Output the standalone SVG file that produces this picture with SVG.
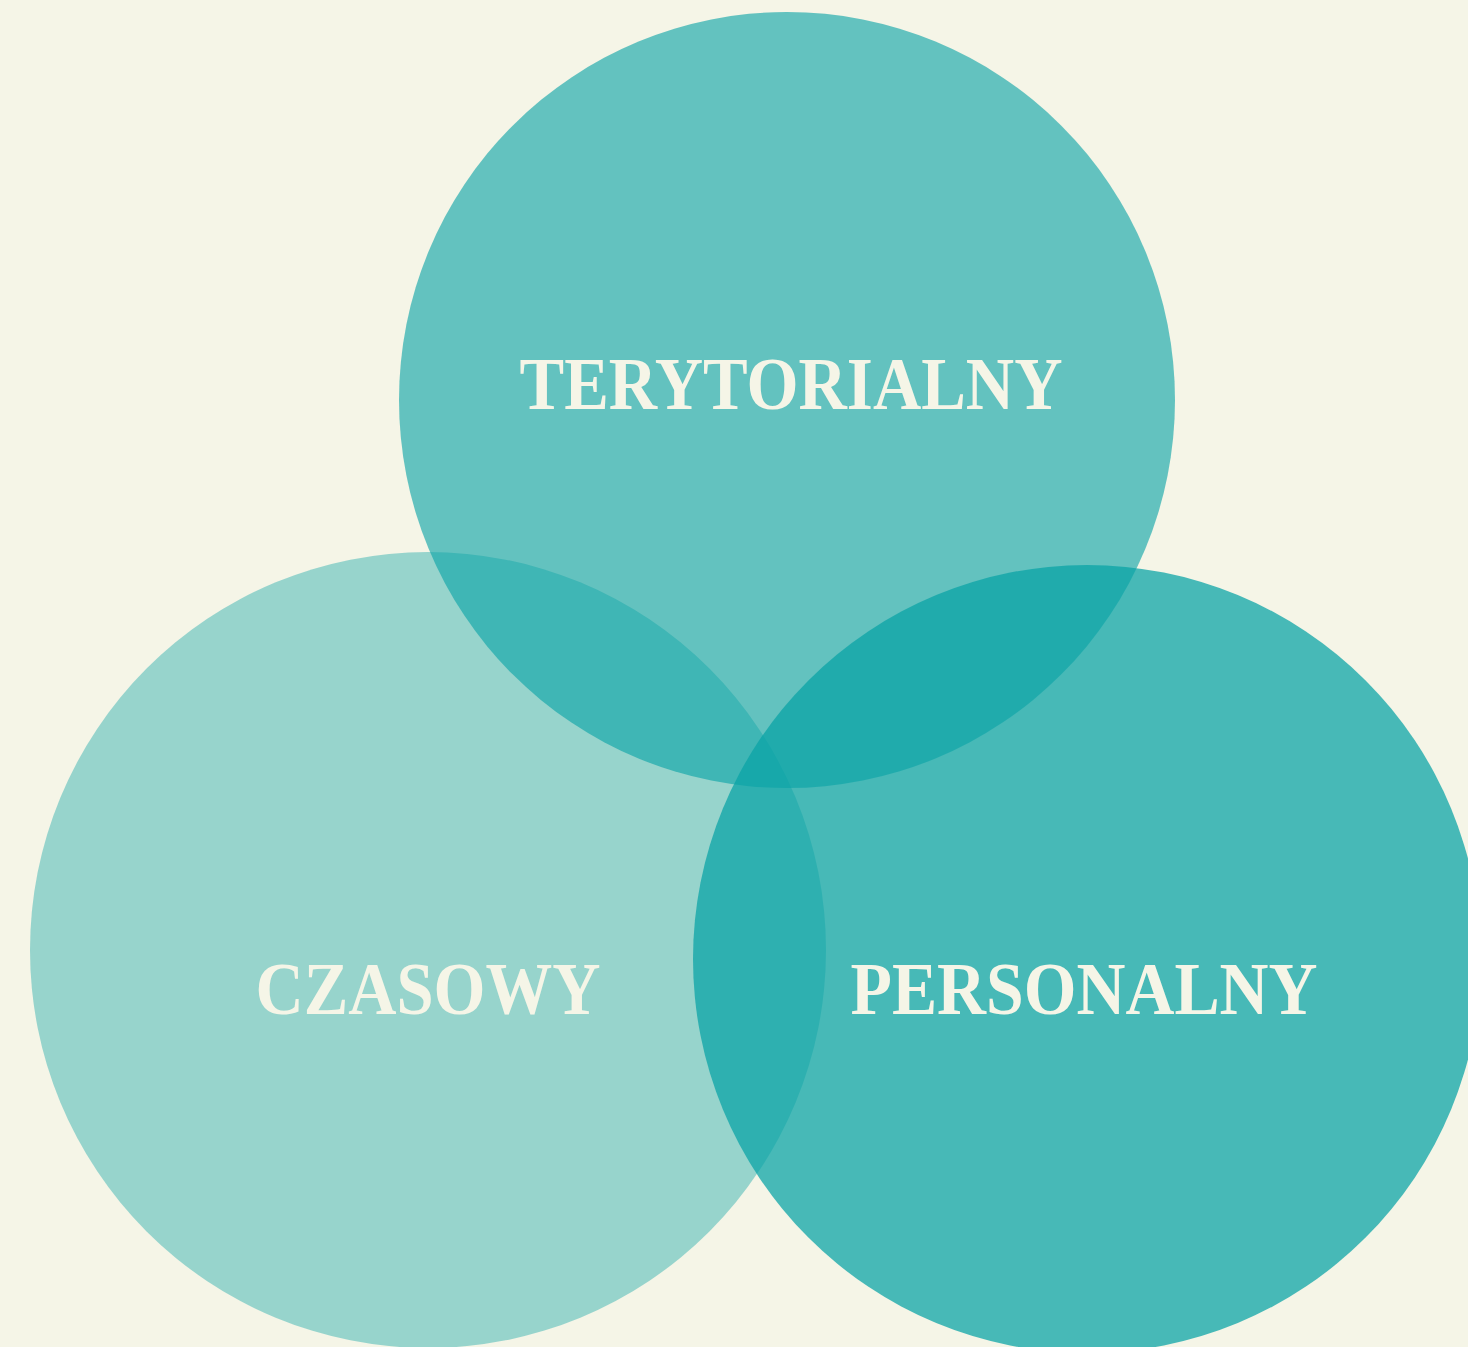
<svg xmlns="http://www.w3.org/2000/svg" width="1468" height="1347" viewBox="0 0 1468 1347">
<style>
.c{fill:#0AA3A6}
.t{font-family:"Liberation Serif","DejaVu Serif",serif;font-weight:bold;font-size:74px;fill:#F5F5E7;text-anchor:middle}
</style>
<rect width="1468" height="1347" fill="#F5F5E7"/>
<g id="czasowy"><circle class="c" cx="428" cy="950" r="398" fill-opacity="0.4"/></g>
<g id="terytorialny"><circle class="c" cx="787" cy="400" r="388" fill-opacity="0.62"/></g>
<g id="personalny"><circle class="c" cx="1087" cy="959" r="394" fill-opacity="0.74"/></g>
<g id="labels">
<text class="t" x="791" y="409" textLength="543" lengthAdjust="spacingAndGlyphs">TERYTORIALNY</text>
<text class="t" x="428" y="1014" textLength="345" lengthAdjust="spacingAndGlyphs">CZASOWY</text>
<text class="t" x="1084" y="1014" textLength="467" lengthAdjust="spacingAndGlyphs">PERSONALNY</text>
</g>
<g id="connectors"/>
</svg>
